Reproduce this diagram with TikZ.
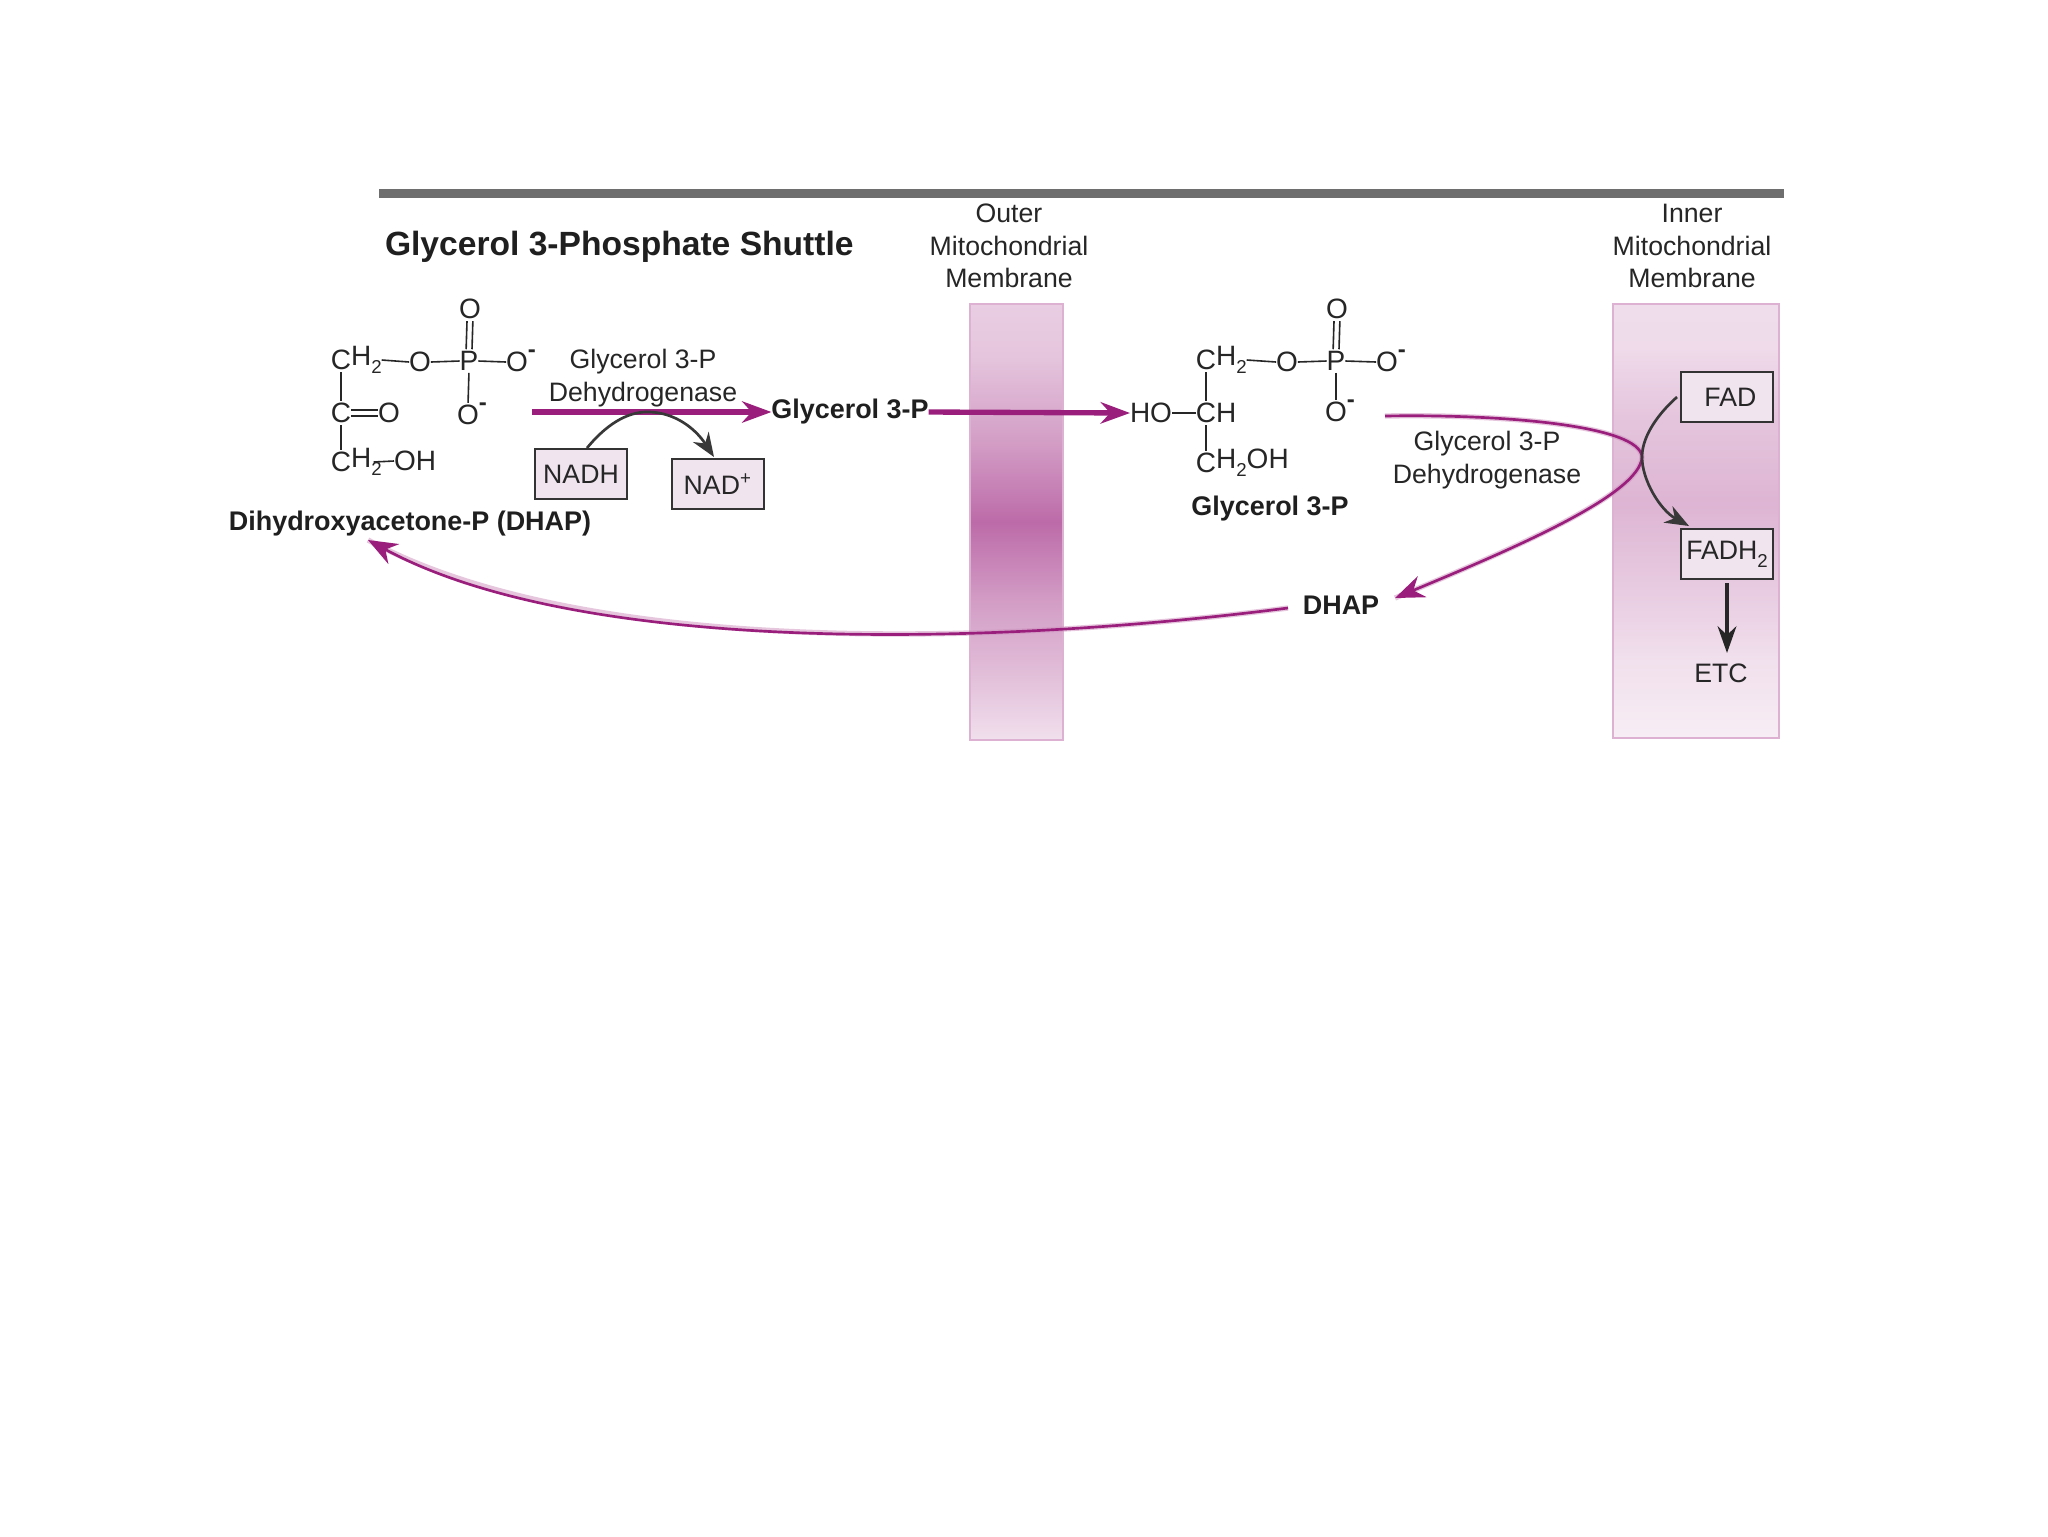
\documentclass[tikz,border=0pt]{standalone}
\usepackage{fontspec}
\setmainfont{Liberation Sans}
\usetikzlibrary{arrows.meta}
\definecolor{barg}{HTML}{6E6E6E}
\definecolor{txt}{HTML}{262626}
\definecolor{purp}{HTML}{9A1F7C}
\definecolor{boxf}{HTML}{F0E4EE}
\pgfdeclareverticalshading{outershade}{100bp}{
  color(0bp)=(purp!14!white); color(25bp)=(purp!14!white); color(31bp)=(purp!26!white); color(41bp)=(purp!44!white);
  color(50bp)=(purp!66!white); color(59bp)=(purp!44!white); color(69bp)=(purp!26!white); color(75bp)=(purp!22!white); color(100bp)=(purp!22!white)}
\pgfdeclareverticalshading{innershade}{100bp}{
  color(0bp)=(purp!8!white); color(25bp)=(purp!8!white); color(34bp)=(purp!14!white); color(43bp)=(purp!24!white);
  color(52bp)=(purp!33!white); color(62bp)=(purp!26!white); color(70bp)=(purp!16!white); color(75bp)=(purp!15!white); color(100bp)=(purp!15!white)}
\newcommand{\lowtwo}{\raisebox{-0.55ex}{\fontsize{7}{8}\selectfont 2}}
\newcommand{\negch}{\raisebox{1.1ex}{\fontsize{9}{8}\selectfont\bfseries -}}
\tikzset{
  every node/.style={outer sep=0pt},
  lab/.style={inner sep=0pt,text=txt,font=\fontsize{10}{12.2}\selectfont,align=center},
  blab/.style={inner sep=0pt,text=black!88,font=\fontsize{10.1}{12}\bfseries\selectfont},
  ttl/.style={inner sep=0pt,text=black!88,font=\fontsize{12.6}{15}\bfseries\selectfont},
  atom/.style={inner sep=0pt,text=txt,font=\fontsize{10.5}{12}\selectfont},
  bond/.style={draw=txt,line width=0.6pt},
  vbond/.style={bond,shorten >=0.8pt,shorten <=0.8pt},
  cof/.style={draw=black!80,fill=boxf,line width=0.75pt,minimum width=34.7pt,minimum height=18.4pt,inner sep=0pt,text=txt,font=\fontsize{10}{12}\selectfont},
  bigarr/.style={draw=purp,line width=2pt,-{Stealth[length=11pt,width=8pt]}},
  pinkglow/.style={draw=purp!50,line width=2pt,opacity=0.5},
  thinarr/.style={draw=purp,line width=1pt},
  tiparr/.style={-{Stealth[length=11pt,width=8.5pt]}},
  darkarr/.style={draw=black!78,line width=1pt,-{Stealth[length=9pt,width=7pt]}}
}
\begin{document}
\begin{tikzpicture}[x=0.375pt,y=-0.375pt]
\useasboundingbox (0,0) rectangle (2048,1536);
\fill[white] (0,0) rectangle (2048,1536);

% bar and title
\fill[barg] (379,189) rectangle (1784,198);
\node[ttl,anchor=west] (title) at (385,247) {Glycerol 3-Phosphate Shuttle};

% membranes
\path[shading=outershade,draw=purp!35,line width=0.4pt] (970,304) rectangle (1063,740);
\path[shading=innershade,draw=purp!35,line width=0.4pt] (1613,304) rectangle (1779,738);
\node[lab] (outer) at (1009,246) {Outer\\Mitochondrial\\Membrane};
\node[lab] (inner) at (1692,246) {Inner\\Mitochondrial\\Membrane};

% left molecule
\node[atom] (lc1) at (341,360) {C};
\node[atom,anchor=west] (lh1) at (lc1.east) {H\lowtwo};
\node[atom] (lo1) at (420,362) {O};
\node[atom] (lp) at (469,361) {P};
\node[atom] (lo2) at (517,362) {O};
\node[atom,anchor=west] (ln2) at (lo2.east) {\negch};
\node[atom] (lo3) at (470,309) {O};
\node[atom] (lo4) at (468,415) {O};
\node[atom,anchor=west] (ln4) at (lo4.east) {\negch};
\node[atom] (lc2) at (341,413) {C};
\node[atom] (lo5) at (389,413) {O};
\node[atom] (lc3) at (341,462) {C};
\node[atom,anchor=west] (lh3) at (lc3.east) {H\lowtwo};
\node[atom] (loh) at (415,461) {OH};
\draw[bond] (lh1.east) -- (lo1.west);
\draw[bond] (lo1.east) -- (lp.west);
\draw[bond] (lp.east) -- (lo2.west);
\draw[vbond] (lp.south) -- (lo4.north);
\draw[vbond] ([xshift=-1.1pt]lp.north) -- ([xshift=-1.1pt]lo3.south);
\draw[vbond] ([xshift=1.1pt]lp.north) -- ([xshift=1.1pt]lo3.south);
\draw[vbond] (lc1.south) -- (lc2.north);
\draw[vbond] (lc2.south) -- (lc3.north);
\draw[bond] ([yshift=1.1pt]lc2.east) -- ([yshift=1.1pt]lo5.west);
\draw[bond] ([yshift=-1.1pt]lc2.east) -- ([yshift=-1.1pt]lo5.west);
\draw[bond] ([xshift=-3pt]lh3.east) -- (loh.west);
\node[blab] (dhapl) at (410,524) {Dihydroxyacetone-P (DHAP)};

% first reaction
\node[lab] (enz1) at (643,378) {Glycerol 3-P\\Dehydrogenase};
\node[blab] (g3pa) at (850,412) {Glycerol 3-P};
\coordinate (a1) at (532,412);
\draw[bigarr] (a1) -- (g3pa.west);
\node[cof] (nadh) at (581,474) {NADH};
\node[cof] (nadp) at (718,484) {NAD\textsuperscript{+}};
\coordinate (nadhs) at (587,448);
\coordinate (nadtop) at (650,412);
\coordinate (nadps) at (714,457);
\draw[darkarr] (nadhs) .. controls (610,420) and (632,411) .. (nadtop) .. controls (675,413) and (695,428) .. (nadps);

% second arrow to right molecule
\node[atom] (ho) at (1151,413) {HO};
\node[atom] (rc2) at (1206,413) {C};
\node[atom,anchor=west] (rh2) at (rc2.east) {H};
\draw[bigarr] (g3pa.east) -- (ho.west);
\draw[bond] (ho.east) -- (rc2.west);

% right molecule
\node[atom] (rc1) at (1206,360) {C};
\node[atom,anchor=west] (rh1) at (rc1.east) {H\lowtwo};
\node[atom] (ro1) at (1287,362) {O};
\node[atom] (rp) at (1336,361) {P};
\node[atom] (ro2) at (1387,362) {O};
\node[atom,anchor=west] (rn2) at (ro2.east) {\negch};
\node[atom] (ro3) at (1337,309) {O};
\node[atom] (ro4) at (1336,412) {O};
\node[atom,anchor=west] (rn4) at (ro4.east) {\negch};
\node[atom] (rc3) at (1206,463) {C};
\node[atom,anchor=west] (rh3) at (rc3.east) {H\lowtwo OH};
\draw[bond] (rh1.east) -- (ro1.west);
\draw[bond] (ro1.east) -- (rp.west);
\draw[bond] (rp.east) -- (ro2.west);
\draw[vbond] (rp.south) -- (ro4.north);
\draw[vbond] ([xshift=-1.1pt]rp.north) -- ([xshift=-1.1pt]ro3.south);
\draw[vbond] ([xshift=1.1pt]rp.north) -- ([xshift=1.1pt]ro3.south);
\draw[vbond] (rc1.south) -- (rc2.north);
\draw[vbond] (rc2.south) -- (rc3.north);
\node[blab] (g3pb) at (1270,509) {Glycerol 3-P};
\node[lab] (enz2) at (1487,460) {Glycerol 3-P\\Dehydrogenase};

% DHAP and return
\node[blab] (dhapr) at (1341,605) {DHAP};
\coordinate (turnstart) at (1385,416);
\coordinate (turn) at (1642,457);
\coordinate (tipr) at (1395,598);
\coordinate (dstart) at (1288,608);
\coordinate (tipl) at (368,540);
\draw[pinkglow] (turnstart) .. controls (1500,414) and (1640,425) .. (turn) .. controls (1640,495) and (1510,550) .. (tipr);
\draw[thinarr,tiparr] (turnstart) .. controls (1500,414) and (1640,425) .. (turn) .. controls (1640,495) and (1510,550) .. (tipr);
\draw[pinkglow] (dstart) .. controls (960,650) and (570,650) .. (tipl);
\draw[thinarr,tiparr] (dstart) .. controls (960,650) and (570,650) .. (tipl);

% right cofactors
\node[cof] (fad) at (1727,397) {\hspace*{2.5pt}FAD};
\node[cof] (fadh) at (1727,554) {FADH\lowtwo};
\node[lab] (etc) at (1721,673) {ETC};
\coordinate (fads) at (1677,397);
\coordinate (fadhs) at (1689,526);
\coordinate (etcs) at (1727,583);
\coordinate (etcend) at (1727,653);
\draw[darkarr] (fads) .. controls (1660,412) and (1642,435) .. (turn) .. controls (1642,480) and (1660,510) .. (fadhs);
\draw[draw=black!85,line width=1.4pt,-{Stealth[length=10pt,width=7pt]}] (etcs) -- (etcend);
\end{tikzpicture}
\end{document}
